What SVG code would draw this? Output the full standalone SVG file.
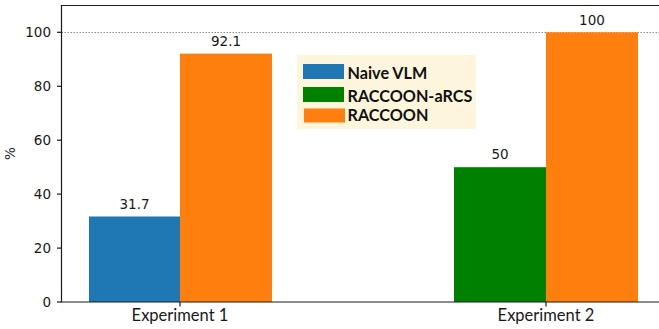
<svg xmlns="http://www.w3.org/2000/svg" width="659" height="329" viewBox="0 0 659 329">
  <style>
    .tick { font-family: "DejaVu Sans", sans-serif; font-size: 13.5px; fill: #1a1a1a; }
    .val { font-family: "DejaVu Sans", sans-serif; font-size: 13.5px; fill: #1a1a1a; text-anchor: middle; }
    .xlab { font-family: Lato, "Liberation Sans", sans-serif; font-size: 16.5px; fill: #1a1a1a; text-anchor: middle; }
    .leg { font-family: Lato, "Liberation Sans", sans-serif; font-size: 16.2px; font-weight: bold; fill: #111; }
    .axis { stroke: #1a1a1a; stroke-width: 1.2; fill: none; }
  </style>
  <rect width="659" height="329" fill="#ffffff"/>

  <!-- reference line at 100 % -->
  <line x1="61.5" y1="32.5" x2="659" y2="32.5" stroke="#8a8a8a" stroke-width="1" stroke-dasharray="1.5,1.5"/>

  <!-- bars -->
  <g id="exp1">
    <rect id="exp1-naive" x="89" y="216.5" width="91" height="85.5" fill="#1f77b4"/>
    <rect id="exp1-raccoon" x="180" y="53.6" width="92" height="248.4" fill="#ff7f0e"/>
    <text class="val" x="134.5" y="208.5">31.7</text>
    <text class="val" x="226" y="45.5">92.1</text>
  </g>
  <g id="exp2">
    <rect id="exp2-arcs" x="454" y="167.2" width="92" height="134.8" fill="#008000"/>
    <rect id="exp2-raccoon" x="546" y="32.3" width="92" height="269.7" fill="#ff7f0e"/>
    <text class="val" x="500" y="159.3">50</text>
    <text class="val" x="592" y="25">100</text>
  </g>

  <!-- axes -->
  <g id="axes">
    <path class="axis" d="M659 5.5 H61.5 V302 H659"/>
    <!-- ticks -->
    <g stroke="#1a1a1a" stroke-width="1.2">
      <line x1="57" y1="302" x2="61.5" y2="302"/>
      <line x1="57" y1="248.1" x2="61.5" y2="248.1"/>
      <line x1="57" y1="194.1" x2="61.5" y2="194.1"/>
      <line x1="57" y1="140.2" x2="61.5" y2="140.2"/>
      <line x1="57" y1="86.3" x2="61.5" y2="86.3"/>
      <line x1="57" y1="32.3" x2="61.5" y2="32.3"/>
      <line x1="180" y1="302" x2="180" y2="306.5"/>
      <line x1="546" y1="302" x2="546" y2="306.5"/>
    </g>
    <g class="tick" text-anchor="end">
      <text x="51" y="306.9">0</text>
      <text x="51" y="253">20</text>
      <text x="51" y="199">40</text>
      <text x="51" y="145.1">60</text>
      <text x="51" y="91.2">80</text>
      <text x="51" y="37.2">100</text>
    </g>
    <text class="tick" transform="translate(15 153.5) rotate(-90)" text-anchor="middle">%</text>
    <text class="xlab" x="180" y="321">Experiment 1</text>
    <text class="xlab" x="546" y="321">Experiment 2</text>
  </g>

  <!-- legend -->
  <g id="legend">
    <rect x="297" y="55" width="179" height="74" fill="#fdf6dc"/>
    <rect x="303" y="64" width="41" height="15" fill="#1f77b4"/>
    <rect x="303" y="87" width="41" height="15" fill="#008000"/>
    <rect x="304" y="108.5" width="41" height="14" fill="#ff7f0e"/>
    <text class="leg" x="347.5" y="78.5">Naive VLM</text>
    <text class="leg" x="347.5" y="101.5">RACCOON-aRCS</text>
    <text class="leg" x="347.5" y="121">RACCOON</text>
  </g>
</svg>
